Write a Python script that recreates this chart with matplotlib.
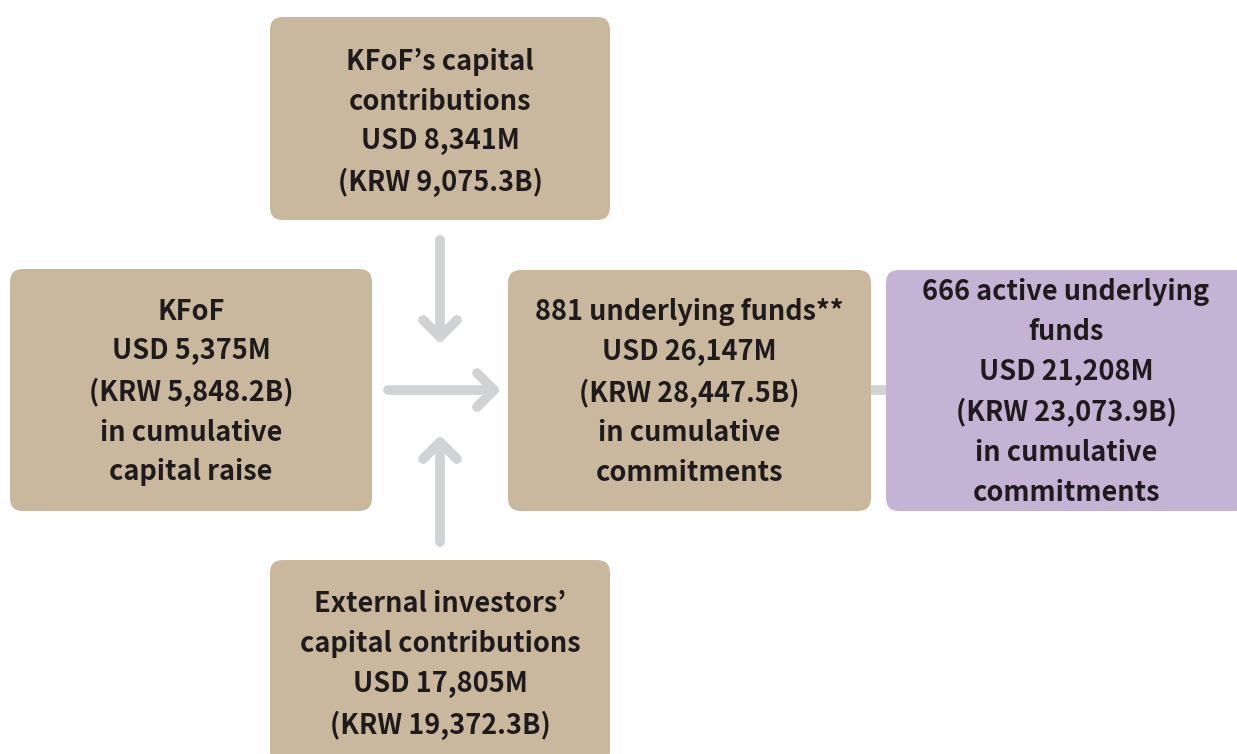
import matplotlib
matplotlib.use("Agg")
import matplotlib.pyplot as plt
from matplotlib.patches import FancyBboxPatch

plt.rcParams['font.family'] = ['Noto Sans CJK KR', 'DejaVu Sans']

# ---- content ----
box_names = ["top", "left", "middle", "active", "bottom"]
box_labels = [
    "KFoF\u2019s capital\ncontributions\nUSD 8,341M\n(KRW 9,075.3B)",
    "KFoF\nUSD 5,375M\n(KRW 5,848.2B)\nin cumulative\ncapital raise",
    "881 underlying funds**\nUSD 26,147M\n(KRW 28,447.5B)\nin cumulative\ncommitments",
    "666 active underlying\nfunds\nUSD 21,208M\n(KRW 23,073.9B)\nin cumulative\ncommitments",
    "External investors\u2019\ncapital contributions\nUSD 17,805M\n(KRW 19,372.3B)",
]
box_colors = ["#C9B89E", "#C9B89E", "#C9B89E", "#C5B3D6", "#C9B89E"]

# layout (pixel space): x0, y0, x1, y1
box_geom = {
    "top": (270, 17, 610, 220),
    "left": (10, 269, 372, 511),
    "middle": (508, 270, 871, 511),
    "active": (886, 270, 1246, 511),
    "bottom": (270, 560, 610, 764),
}

W, H = 1237, 754
fig = plt.figure(figsize=(W / 100, H / 100), dpi=100)
ax = fig.add_axes([0, 0, 1, 1])
ax.set_xlim(0, W)
ax.set_ylim(H, 0)
ax.axis("off")

arrow_col = "#D1D2D4"
lw = 7

# connector middle -> active
ax.plot([871, 890], [390, 390], color=arrow_col, lw=lw, solid_capstyle="butt", zorder=1)

for name, label, col in zip(box_names, box_labels, box_colors):
    x0, y0, x1, y1 = box_geom[name]
    p = FancyBboxPatch((x0, y0), x1 - x0, y1 - y0,
                       boxstyle="round,pad=0,rounding_size=13",
                       facecolor=col, edgecolor="none", zorder=2)
    ax.add_patch(p)
    cx = (x0 + x1) / 2
    cy = (y0 + y1) / 2 + 2
    if name == "top":
        cy += 2
    if name == "bottom":
        cy = 665
    ax.text(cx, cy, label, ha="center", va="center", fontsize=19.5,
            fontweight="bold", color="#1F1B1C", linespacing=1.53, zorder=3)

# arrows
def line(xs, ys):
    ax.plot(xs, ys, color=arrow_col, lw=lw, solid_capstyle="round",
            solid_joinstyle="round", zorder=1)

# down arrow
line([440, 440], [240, 337])
line([423, 440, 457], [320, 337, 320])
# right arrow
line([388, 494], [390, 390])
line([477, 494, 477], [373, 390, 407])
# up arrow
line([440, 440], [542, 442])
line([423, 440, 457], [459, 442, 459])

fig.savefig("out.png", dpi=100)
